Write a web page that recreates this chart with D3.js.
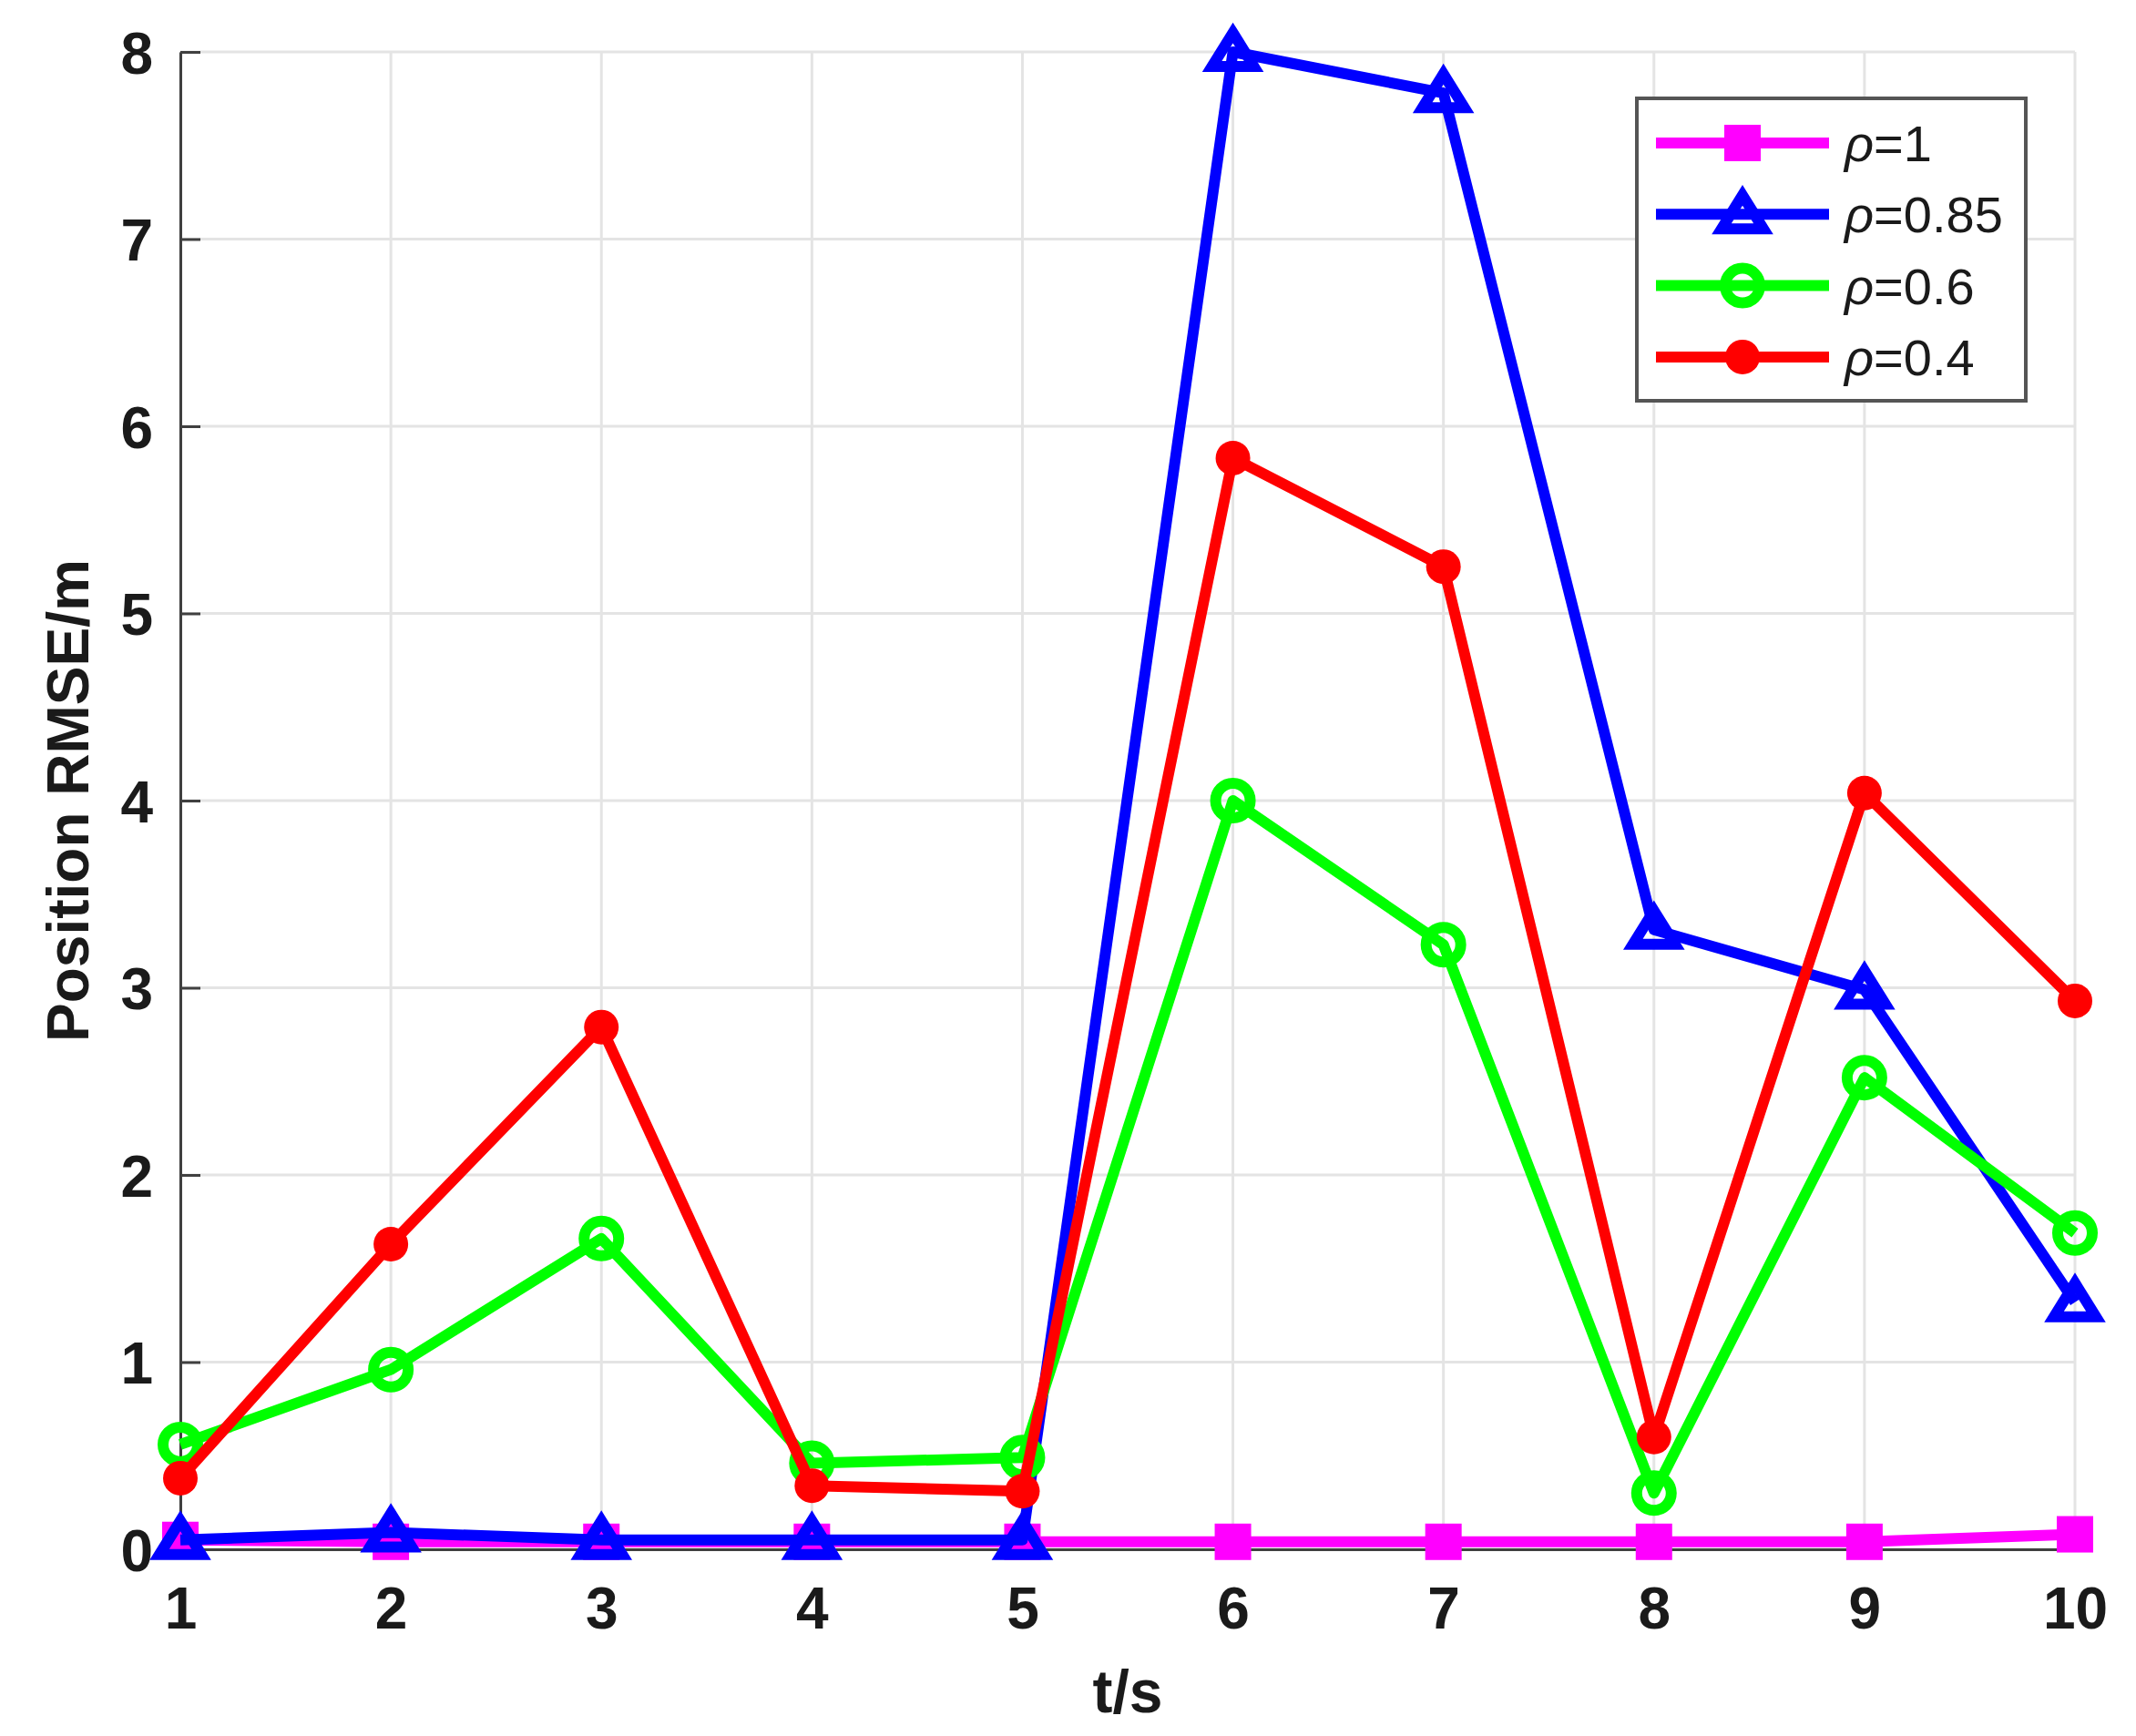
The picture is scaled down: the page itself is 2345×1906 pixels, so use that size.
<!DOCTYPE html>
<meta charset="utf-8">
<head>
    <script src="https://d3js.org/d3.v7.min.js"></script>
    <style>
        body { margin: 0; background: #fff; }
        text { font-family: "Liberation Sans", Arial, sans-serif; }
    </style>
</head>
<body>
<div id="my_dataviz"></div>
<script>

    // time steps (t/s)
    const times = [1, 2, 3, 4, 5, 6, 7, 8, 9, 10]

    // position RMSE per rho value
    const rho1   = [0.05, 0.04, 0.04, 0.04, 0.04, 0.04, 0.04, 0.04, 0.04, 0.08]
    const rho085 = [0.05, 0.09, 0.05, 0.05, 0.05, 8.00, 7.78, 3.31, 2.99, 1.32]
    const rho06  = [0.56, 0.96, 1.66, 0.46, 0.49, 4.00, 3.23, 0.30, 2.52, 1.69]
    const rho04  = [0.38, 1.63, 2.79, 0.34, 0.31, 5.83, 5.25, 0.60, 4.04, 2.93]

    const xTicks = [1, 2, 3, 4, 5, 6, 7, 8, 9, 10]
    const yTicks = [0, 1, 2, 3, 4, 5, 6, 7, 8]
    const legendLabels = ["=1", "=0.85", "=0.6", "=0.4"]

    const series = [
        { values: rho1,   label: legendLabels[0], color: "#ff00ff", marker: "square" },
        { values: rho085, label: legendLabels[1], color: "#0000ff", marker: "triangle" },
        { values: rho06,  label: legendLabels[2], color: "#00ff00", marker: "circle" },
        { values: rho04,  label: legendLabels[3], color: "#ff0000", marker: "dot" }
    ]

    const width = 2345, height = 1906
    const plotLeft = 198, plotRight = 2278, plotTop = 57, plotBottom = 1701

    const svg = d3.select("#my_dataviz").append("svg")
        .attr("width", width)
        .attr("height", height)

    const x = d3.scaleLinear().domain([1, 10]).range([plotLeft, plotRight])
    const y = d3.scaleLinear().domain([0, 8]).range([plotBottom, plotTop])

    // grid
    svg.append("g")
        .selectAll("line")
        .data(xTicks)
        .join("line")
        .attr("x1", d => x(d)).attr("x2", d => x(d))
        .attr("y1", plotTop).attr("y2", plotBottom)
        .attr("stroke", "#e4e4e4").attr("stroke-width", 3)

    svg.append("g")
        .selectAll("line")
        .data(yTicks)
        .join("line")
        .attr("x1", plotLeft).attr("x2", plotRight)
        .attr("y1", d => y(d)).attr("y2", d => y(d))
        .attr("stroke", "#e4e4e4").attr("stroke-width", 3)

    // axes
    const bottomAxis = d3.axisBottom(x).tickValues(xTicks).tickFormat(d3.format("d"))
        .tickSizeInner(-22).tickSizeOuter(0).tickPadding(42)
    const gx = svg.append("g")
        .attr("transform", `translate(0, ${plotBottom})`)
        .call(bottomAxis)

    const leftAxis = d3.axisLeft(y).tickValues(yTicks).tickFormat(d3.format("d"))
        .tickSizeInner(-22).tickSizeOuter(0).tickPadding(30)
    const gy = svg.append("g")
        .attr("transform", `translate(${plotLeft}, 0)`)
        .call(leftAxis)

    for (const g of [gx, gy]) {
        g.select(".domain").attr("stroke", "#404040").attr("stroke-width", 3)
        g.selectAll(".tick line").attr("stroke", "#404040").attr("stroke-width", 3)
        g.selectAll(".tick text")
            .attr("fill", "#1a1a1a")
            .style("font-size", "64px")
            .style("font-weight", "bold")
            .style("font-family", "'Liberation Sans', Arial, sans-serif")
    }
    gx.selectAll(".tick text").attr("dy", "0.71em")
    gy.selectAll(".tick text").attr("dy", "0.36em")

    // axis labels
    svg.append("text")
        .attr("x", (plotLeft + plotRight) / 2)
        .attr("y", 1880)
        .attr("text-anchor", "middle")
        .attr("fill", "#1a1a1a")
        .style("font-size", "66px")
        .style("font-weight", "bold")
        .text("t/s")

    svg.append("text")
        .attr("transform", `translate(97, ${(plotTop + plotBottom) / 2}) rotate(-90)`)
        .attr("text-anchor", "middle")
        .attr("fill", "#1a1a1a")
        .style("font-size", "64px")
        .style("font-weight", "bold")
        .text("Position RMSE/m")

    // markers
    function drawMarker(g, type, color, cx, cy) {
        if (type === "square") {
            g.append("rect")
                .attr("x", cx - 20).attr("y", cy - 20)
                .attr("width", 40).attr("height", 40)
                .attr("fill", color)
        } else if (type === "triangle") {
            g.append("path")
                .attr("d", `M${cx},${cy - 21} L${cx + 23},${cy + 16} L${cx - 23},${cy + 16} Z`)
                .attr("fill", "none")
                .attr("stroke", color)
                .attr("stroke-width", 12)
                .attr("stroke-linejoin", "miter")
        } else if (type === "circle") {
            g.append("circle")
                .attr("cx", cx).attr("cy", cy).attr("r", 19)
                .attr("fill", "none")
                .attr("stroke", color)
                .attr("stroke-width", 12)
        } else {
            g.append("circle")
                .attr("cx", cx).attr("cy", cy).attr("r", 19)
                .attr("fill", color)
        }
    }

    const line = d3.line()
        .x((d, i) => x(times[i]))
        .y(d => y(d))

    series.forEach(s => {
        const g = svg.append("g")
        g.append("path")
            .datum(s.values)
            .attr("fill", "none")
            .attr("stroke", s.color)
            .attr("stroke-width", 12)
            .attr("stroke-linejoin", "round")
            .attr("d", line)
        s.values.forEach((v, i) => drawMarker(g, s.marker, s.color, x(times[i]), y(v)))
    })

    // legend
    const legend = svg.append("g")
    legend.append("rect")
        .attr("x", 1797).attr("y", 108)
        .attr("width", 427).attr("height", 332)
        .attr("fill", "#fff")
        .attr("stroke", "#555")
        .attr("stroke-width", 4)

    series.forEach((s, i) => {
        const ly = 157 + i * 78.3
        legend.append("line")
            .attr("x1", 1818).attr("x2", 2008)
            .attr("y1", ly).attr("y2", ly)
            .attr("stroke", s.color)
            .attr("stroke-width", 12)
        drawMarker(legend, s.marker, s.color, 1913, ly)
        const t = legend.append("text")
            .attr("x", 2025)
            .attr("y", ly + 20)
            .attr("fill", "#1a1a1a")
            .style("font-size", "56px")
        t.append("tspan").style("font-style", "italic").text("ρ")
        t.append("tspan").text(s.label)
    })

</script>
</body>
